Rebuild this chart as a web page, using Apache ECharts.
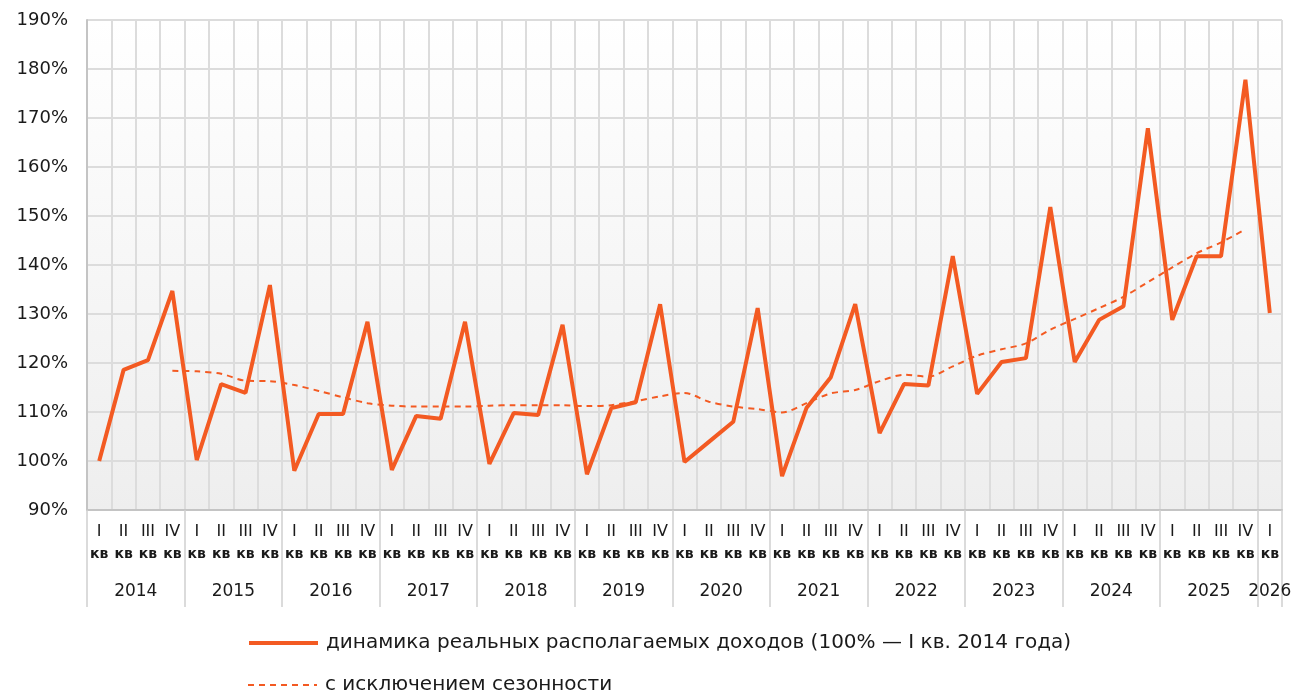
<!DOCTYPE html>
<html>
<head>
<meta charset="utf-8">
<script src="https://cdn.jsdelivr.net/npm/echarts@6/dist/echarts.min.js"></script>
<style>
  html, body { margin: 0; padding: 0; background: #fff; }
  .income-chart { width: 1309px; height: 695px; }
</style>
</head>
<body>
<div class="income-chart"></div>
<script>
const quarters = ['I', 'II', 'III', 'IV']
const years = [2014, 2015, 2016, 2017, 2018, 2019, 2020, 2021, 2022, 2023, 2024, 2025, 2026]
const categories = []
years.forEach(function(y) {
  quarters.forEach(function(q) {
    if (y < 2026 || q === 'I') categories.push(q + ' кв ' + y)
  })
})

const incomeValues = [
  100, 118.6, 120.6, 134.7,
  100.2, 115.7, 113.9, 135.9,
  98.0, 109.6, 109.6, 128.4,
  98.2, 109.2, 108.6, 128.4,
  99.4, 109.8, 109.4, 127.8,
  97.3, 110.8, 112.0, 132.0,
  99.8, 103.9, 108.0, 131.2,
  96.9, 110.8, 117.1, 132.0,
  105.7, 115.7, 115.4, 141.8,
  113.7, 120.2, 121.0, 151.8,
  120.2, 128.8, 131.6, 167.9,
  128.8, 141.8, 141.8, 177.8,
  130.2
]

const seasonalValues = [
  null, null, null, 118.4,
  118.3, 117.8, 116.4, 116.3,
  115.5, 114.3, 113.0, 111.8,
  111.3, 111.1, 111.1, 111.1,
  111.3, 111.4, 111.4, 111.4,
  111.2, 111.4, 112.2, 113.2,
  113.9, 112.1, 111.1, 110.6,
  109.9, 111.8, 113.8, 114.5,
  116.3, 117.6, 117.2, 119.3,
  121.5, 122.8, 124.0, 126.8,
  129.0, 131.2, 133.5, 136.5,
  139.5, 142.4, 144.6, 147.3,
  null
]

const legendNames = ['динамика реальных располагаемых доходов (100% — I кв. 2014 года)', 'с исключением сезонности']

const mainColor = '#f35a22'
const textColor = '#1a1a1a'
const fontName = 'DejaVu Sans'

function legendAt(name, top, lineWidth) {
  return {
    orient: 'vertical',
    left: 247,
    top: top,
    padding: 0,
    itemWidth: 69,
    itemHeight: 4,
    itemStyle: { opacity: 0 },
    lineStyle: { width: lineWidth },
    textStyle: { fontSize: 20, color: textColor, fontFamily: fontName, padding: [0, 0, 0, 3] },
    data: [name]
  }
}

var myChart = echarts.init(document.querySelector('.income-chart'))
const option = {
  animation: false,
  textStyle: { fontFamily: fontName },
  grid: {
    left: 87,
    right: 27,
    top: 20,
    bottom: 185,
    show: true,
    borderWidth: 0,
    backgroundColor: {
      type: 'linear',
      x: 0, y: 0, x2: 0, y2: 1,
      colorStops: [
        { offset: 0, color: '#ffffff' },
        { offset: 1, color: '#eeeeee' }
      ]
    }
  },
  legend: [
    legendAt(legendNames[0], 633, 4),
    legendAt(legendNames[1], 675, 2)
  ],
  xAxis: [
    {
      type: 'category',
      data: categories,
      boundaryGap: true,
      axisLine: { lineStyle: { color: '#c4c4c4', width: 2 } },
      axisTick: { interval: 0, length: 58, lineStyle: { color: '#cfcfcf', width: 1.5 } },
      splitLine: { show: true, interval: 0, lineStyle: { color: '#dcdcdc', width: 2 } },
      axisLabel: {
        interval: 0,
        margin: 10,
        formatter: function(v) {
          return '{r|' + v.split(' ')[0] + '}\n{k|кв}'
        },
        rich: {
          r: { fontSize: 16, color: textColor, lineHeight: 23, fontFamily: fontName },
          k: { fontSize: 14, color: textColor, fontWeight: 'bold', lineHeight: 23, fontFamily: fontName }
        }
      }
    },
    {
      // year labels, centred under each year's quarters
      type: 'value',
      position: 'bottom',
      min: 0,
      max: categories.length,
      interval: 0.5,
      axisLine: { show: false },
      axisTick: { show: false },
      splitLine: { show: false },
      axisLabel: {
        margin: 73,
        fontSize: 17,
        color: textColor,
        showMinLabel: false,
        showMaxLabel: false,
        formatter: function(v) {
          if (v === 48.5) return '2026'
          if (v % 4 === 2) return String(years[(v - 2) / 4])
          return ''
        }
      }
    },
    {
      // year separators
      type: 'value',
      position: 'bottom',
      min: 0,
      max: categories.length,
      interval: 4,
      axisLine: { show: false },
      axisTick: { show: true, length: 97, lineStyle: { color: '#cfcfcf', width: 1.5 } },
      splitLine: { show: false },
      axisLabel: { show: false }
    }
  ],
  yAxis: {
    type: 'value',
    min: 90,
    max: 190,
    interval: 10,
    axisLine: { show: true, lineStyle: { color: '#c4c4c4', width: 2 } },
    axisTick: { show: false },
    splitLine: { lineStyle: { color: '#dcdcdc', width: 2 } },
    axisLabel: {
      formatter: '{value}%',
      fontSize: 18,
      color: textColor,
      margin: 19
    }
  },
  series: [
    {
      name: legendNames[0],
      type: 'line',
      data: incomeValues,
      symbol: 'none',
      lineStyle: { color: mainColor, width: 4 },
      itemStyle: { color: mainColor }
    },
    {
      name: legendNames[1],
      type: 'line',
      data: seasonalValues,
      symbol: 'none',
      smooth: 0.3,
      lineStyle: { color: mainColor, width: 2, type: [6, 5] },
      itemStyle: { color: mainColor }
    }
  ]
}
myChart.setOption(option)
</script>
</body>
</html>
